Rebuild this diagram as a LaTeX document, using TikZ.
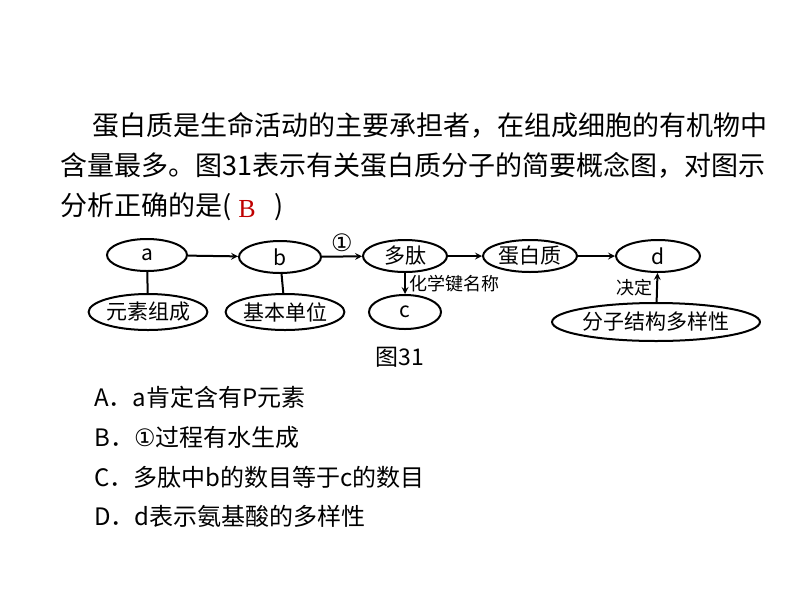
\documentclass[tikz,border=0pt]{standalone}
\usepackage{fontspec}
\setmainfont{Liberation Serif}
\newfontfamily\cjk{Noto Sans CJK SC}
\newfontfamily\sym{DejaVu Sans}
\usetikzlibrary{shapes.geometric}
\begin{document}
\begin{tikzpicture}[x=1pt,y=-1pt,line width=2pt,
  oval/.style={ellipse,draw,inner sep=0pt,font=\cjk\fontsize{21pt}{21pt}\selectfont},
  arr/.style={->,>=stealth},
  txt/.style={anchor=west,font=\cjk\fontsize{27pt}{27pt}\selectfont},
  opt/.style={anchor=west,font=\cjk\fontsize{24pt}{24pt}\selectfont}]
  \useasboundingbox (0,0) rectangle (800,600);
  %题目
  \node[txt] at (88,125) {蛋白质是生命活动的主要承担者，在组成细胞的有机物中};
  \node[txt] at (56,165) {含量最多。图31表示有关蛋白质分子的简要概念图，对图示};
  \node[txt] at (56,207) {分析正确的是(\hspace{1.6em})};
  \node[font=\fontsize{26pt}{26pt}\selectfont,red!75!black] (ans) at (247,209) {B};
  %上排
  \node[oval,minimum width=80,minimum height=32] (a) at (147,255) {a};
  \node[oval,minimum width=82,minimum height=32] (b) at (280,257) {b};
  \node[oval,minimum width=84,minimum height=32] (dt) at (405,256) {多肽};
  \node[oval,minimum width=94,minimum height=32] (dbz) at (530,256) {蛋白质};
  \node[oval,minimum width=84,minimum height=32] (d) at (658,256) {d};
  %下排
  \node[oval,minimum width=112,minimum height=36] (ys) at (148,312) {元素组成};
  \node[oval,minimum width=112,minimum height=36] (jb) at (285,312) {基本单位};
  \node[oval,minimum width=72,minimum height=34] (c) at (405,312) {c};
  \node[oval,minimum width=202,minimum height=38] (fz) at (656,322) {分子结构多样性};
  %连线
  \draw[arr] (a) -- (b);
  \draw[arr] (b) -- node[above,font=\sym\fontsize{24pt}{24pt}\selectfont] {①} (dt);
  \draw[arr] (dt) -- (dbz);
  \draw[arr] (dbz) -- (d);
  \draw (a) -- (ys);
  \draw (b) -- (jb);
  \draw[arr] (dt) -- node[right,font=\cjk\fontsize{18pt}{18pt}\selectfont] {化学键名称} (c);
  \draw[arr] (fz) -- node[left,font=\cjk\fontsize{18pt}{18pt}\selectfont] {决定} (d);
  \node[font=\cjk\fontsize{23pt}{23pt}\selectfont] (tu) at (400,357) {图31};
  %选项
  \node[opt] (A) at (90,397) {A．a肯定含有P元素};
  \node[opt] (B) at (90,437) {B．{\sym ①}过程有水生成};
  \node[opt] (C) at (90,477) {C．多肽中b的数目等于c的数目};
  \node[opt] (D) at (90,516) {D．d表示氨基酸的多样性};
\end{tikzpicture}
\end{document}
